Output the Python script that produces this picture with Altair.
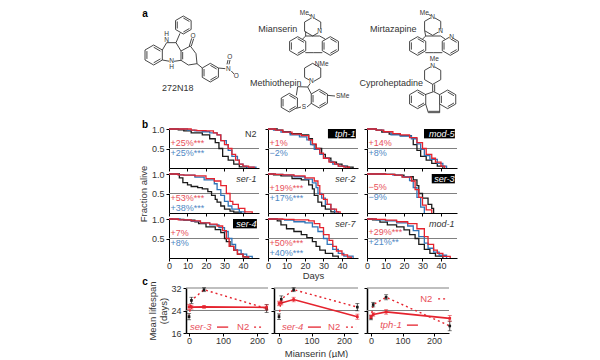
import math
import altair as alt
import pandas as pd

FONT = "Liberation Sans"
RED = "#e5232e"
BLUE = "#2f74b8"
BLACK = "#1a1a1a"
TXTRED = "#e8505a"
TXTBLUE = "#4f88c4"
GREY = "#808080"
INK = "#333333"

# ---------- survival curves: panel -> (days, fraction) for black, blue, red
N2 = {
 "k": ([0,5,8,12,18,22,25,27,29,32,35,38,42],[1,.98,.95,.9,.85,.75,.65,.5,.3,.2,.1,.03,0]),
 "b": ([0,10,14,18,22,26,28,31,32,34,37,38,40,42,47],[1,.97,.95,.93,.9,.85,.7,.6,.45,.3,.2,.1,.05,.02,0]),
 "r": ([0,12,15,20,24,26,28,30,32,34,36,38,40,43,46],[1,.97,.96,.95,.9,.85,.7,.6,.5,.35,.2,.1,.05,.02,0]),
}
SER1 = {
 "k": ([0,5.6,7.5,10,12,15.5,18,21,23,25,26,28,30,33,35,39],[1,.9,.78,.72,.68,.65,.62,.55,.45,.35,.28,.18,.1,.05,.02,0]),
 "b": ([0,5,8,14,19,24.5,26,28,30,32,34,38,41],[1,.98,.97,.92,.85,.75,.6,.45,.3,.18,.1,.03,0]),
 "r": ([0,5,8,14,20,24.5,28,31,33,34.5,37.5,41,45],[1,.98,.97,.95,.88,.82,.7,.5,.3,.22,.12,.03,0]),
}
SER4 = {
 "k": ([0,2,8,14,16,20,25,28,30,31,33,35,37,40,43],[1,.99,.97,.93,.88,.8,.73,.65,.5,.42,.3,.2,.1,.03,0]),
 "b": ([0,6,12,17,22,27,30,32,34,36,39,42,45],[1,.98,.94,.9,.85,.78,.68,.5,.35,.2,.1,.04,0]),
 "r": ([0,5,12,17,22,26,29,31,32.5,35,37,40,43],[1,.98,.95,.9,.87,.82,.7,.5,.3,.2,.1,.03,0]),
}
TPH1 = {
 "k": ([0,5,8,12,18,22,24,26,29,31,34,37,40,43,46],[1,.97,.93,.88,.85,.75,.6,.5,.35,.25,.15,.1,.05,.02,0]),
 "b": ([0,3,7,12,17,21,23,25,28,30,33,35,38,42],[1,.97,.92,.85,.8,.72,.6,.48,.35,.25,.17,.1,.05,0]),
 "r": ([0,4,8,13,18,22,24,26,28,30,33,36,38,41,44],[1,.97,.92,.87,.83,.72,.62,.5,.38,.25,.15,.1,.05,.02,0]),
}
SER2 = {
 "k": ([0,3,7,13,18,22,24,25,27,29,31,34,36],[1,.98,.95,.88,.85,.72,.62,.45,.28,.18,.1,.03,0]),
 "b": ([0,4,8,14,20,24,26,27,29,31,34,36,38],[1,.99,.97,.93,.87,.77,.65,.5,.38,.22,.1,.03,0]),
 "r": ([0,4,8,14,20,25,27,28,30,32,34,37,39],[1,.99,.98,.95,.9,.82,.7,.48,.35,.22,.1,.03,0]),
}
SER7 = {
 "k": ([0,5,7,10,14,18,21,24,26,28,31,35,38],[1,.95,.85,.75,.68,.6,.52,.42,.3,.2,.12,.05,0]),
 "b": ([0,5,9,14,20,24,27,30,32,35,38,41,46],[1,.99,.97,.93,.9,.8,.68,.5,.35,.22,.12,.05,0]),
 "r": ([0,8,14,22,25,28,30,33,35,37,40,43,45],[1,.99,.98,.95,.88,.78,.6,.45,.3,.18,.08,.02,0]),
}
MOD5 = {
 "k": ([0,5,8,12,18,24,25,27,29,32,35,38,41],[1,.97,.92,.87,.83,.78,.6,.45,.3,.2,.12,.05,0]),
 "b": ([0,5,9,13,18,24,27,29,31,34,38,41,43],[1,.97,.93,.85,.82,.75,.62,.48,.32,.22,.12,.05,0]),
 "r": ([0,5,9,14,18,23,27,30,32,35,37,40,42],[1,.97,.93,.88,.85,.78,.65,.5,.35,.25,.15,.05,0]),
}
SER3 = {
 "k": ([0,10,15,20,25,27,28,30,33,35,36],[1,.99,.97,.93,.85,.7,.5,.38,.22,.12,0]),
 "b": ([0,10,14,19,23,25,27,29,31],[1,.99,.97,.93,.83,.65,.4,.15,0]),
 "r": ([0,10,15,19,24,26,28,30,32,35],[1,.99,.97,.92,.82,.6,.4,.2,.08,0]),
}
MOD1 = {
 "k": ([0,3,7,11,16,20,23,26,28,31,34,37,41],[1,.98,.92,.85,.8,.72,.6,.5,.35,.22,.12,.05,0]),
 "b": ([0,5,10,16,22,25,28,31,33,36,39,43],[1,.98,.95,.9,.82,.7,.55,.38,.25,.15,.07,0]),
 "r": ([0,5,10,16,22,27,31,33,36,38,41,45],[1,.99,.97,.93,.88,.75,.55,.35,.2,.12,.04,0]),
}

PANELS = [
 ("N2",N2,False,"+25%***","+25%***",.64,.385),
 ("tph-1",TPH1,True,"+1%","\u22122%",.64,.385),
 ("mod-5",MOD5,True,"+14%","+8%",.64,.385),
 ("ser-1",SER1,False,"+53%***","+38%***",.385,.13),
 ("ser-2",SER2,False,"+19%***","+17%***",.64,.385),
 ("ser-3",SER3,True,"\u22125%","\u22129%",.66,.4),
 ("ser-4",SER4,True,"+7%","+8%",.64,.385),
 ("ser-7",SER7,False,"+50%***","+40%***",.385,.13),
 ("mod-1",MOD1,False,"+29%***","+21%**",.66,.41),
]

TICK_DAYS = [0,10,20,30,40]
LEVELS = [.5,1]

def survival(idx):
    name, curves, dark, rtxt, btxt, ry, by = PANELS[idx]
    col = idx % 3
    row = idx // 3
    xs = alt.Scale(domain=[0,48.65], nice=False)
    ys = alt.Scale(domain=[0,1], nice=False)
    xaxis = alt.Axis(values=TICK_DAYS, labels=row==2, title="Days" if idx==7 else None, titlePadding=0,
                     format="d", grid=False, labelOverlap=False, labelPadding=0)
    yaxis = alt.Axis(values=LEVELS, labels=col==0, format=".1f", grid=False, labelOverlap=False,
                     title="Fraction alive" if idx==3 else None, titlePadding=3)
    X = alt.X("d:Q", scale=xs, axis=xaxis)
    Y = alt.Y("f:Q", scale=ys, axis=yaxis)
    layers = [alt.Chart(pd.DataFrame({"d":[0],"e":[48.65],"f":[.5]})).mark_rule(color=GREY, strokeWidth=1).encode(
        x=X, x2="e:Q", y=Y)]
    for key,color in (("k",BLACK),("b",BLUE),("r",RED)):
        d,f = curves[key]
        layers.append(alt.Chart(pd.DataFrame({"d":d,"f":f})).mark_line(
            interpolate="step-after", color=color, strokeWidth=1.3).encode(x=X, y=Y))
    if dark:
        left = {"tph-1":32.4,"mod-5":30.8,"ser-3":35,"ser-4":34.6}[name]
        layers.append(alt.Chart(pd.DataFrame({"d":[left],"b":[47.5],"f":[.76],"e":[1.0]})).mark_rect(color="#000000").encode(
            x=X, x2="b:Q", y=Y, y2="e:Q"))
    layers.append(alt.Chart(pd.DataFrame({"d":[47.3],"f":[.88],"t":[name]})).mark_text(
        align="right", baseline="middle", font=FONT, fontSize=9,
        fontStyle="normal" if name=="N2" else "italic", color="#ffffff" if dark else INK).encode(
        x=X, y=Y, text="t:N"))
    for t,yy,c in ((rtxt,ry,TXTRED),(btxt,by,TXTBLUE)):
        layers.append(alt.Chart(pd.DataFrame({"d":[.8],"f":[yy],"t":[t]})).mark_text(
            align="left", baseline="middle", font=FONT, fontSize=9, color=c).encode(
            x=X, y=Y, text="t:N"))
    return alt.layer(*layers).properties(width=90, height=39)

# ---------- dose response
DOSE_TICKS = [0,100,200]
LIFE_TICKS = [16,24,32]
C = [
 dict(off=17,w=82,dom=[-9,232],x=[0,7,44,228],
      n2=[21.8,27.6,31.4,24.7],n2e=[1.1,1.1,.7,1.4],
      mu=[25.3,25.2,25.3,25.1],mue=[.9,.7,.5,.9],
      name="ser-3",nx=3,ny=18.1,sx=[82,115],sy=18.1,lx=141,ly=18.1,dx=[191,220],dy=18.1),
 dict(off=6,w=84,dom=[-15.4,243],x=[0,7,45,241],
      n2=[21.8,28,31.4,25.2],n2e=[1.0,1.2,.7,1.3],
      mu=[26.5,26.7,27.9,21.8],mue=[.8,.7,.8,.9],
      name="ser-4",nx=9,ny=18.1,sx=[89,129],sy=18.1,lx=151,ly=18.1,dx=[206,237],dy=18.1),
 dict(off=0,w=82,dom=[-12.7,247.6],x=[0,7,48,250],
      n2=[21.4,26.1,28.7,18.5],n2e=[.7,.8,.9,1.7],
      mu=[21.8,22.6,23.5,21.2],mue=[.6,.6,.8,1.0],
      name="tph-1",nx=29,ny=18.8,sx=[114,149],sy=18.8,lx=156,ly=28.1,dx=[213,244],dy=28.1),
]

def dose(i):
    p = C[i]
    xs = alt.Scale(domain=p["dom"], range=[p["off"],p["off"]+p["w"]], nice=False)
    ys = alt.Scale(domain=[16,32], range=[69,24], nice=False)
    xaxis = alt.Axis(values=DOSE_TICKS, title="Mianserin (\u00b5M)" if i==1 else None, titlePadding=3, format="d",
                     grid=False, labelOverlap=False, labelPadding=0)
    yaxis = alt.Axis(values=LIFE_TICKS, labels=i==0, offset=-p["off"], grid=False, domainWidth=1.5, labelOverlap=False,
                     title=["Mean lifespan","(days)"] if i==0 else None, titlePadding=2)
    X = alt.X("x:Q",scale=xs,axis=xaxis)
    def Yf(f): return alt.Y(f"{f}:Q",scale=ys,axis=yaxis)
    layers = []
    layers.append(alt.Chart(pd.DataFrame({"y":[24,32],"x":[p["dom"][0]]*2,"b":[p["dom"][1]]*2})).mark_rule(color=GREY,strokeWidth=1.2).encode(
        x=X, x2="b:Q", y=Yf("y")))
    df = pd.DataFrame({"x":p["x"],"n":p["n2"],"m":p["mu"],
        "nl":[a-b for a,b in zip(p["n2"],p["n2e"])],"nh":[a+b for a,b in zip(p["n2"],p["n2e"])],
        "ml":[a-b for a,b in zip(p["mu"],p["mue"])],"mh":[a+b for a,b in zip(p["mu"],p["mue"])]})
    layers.append(alt.Chart(df).mark_line(color=RED,strokeWidth=1.4,strokeDash=[2,3]).encode(x=X,y=Yf("n")))
    layers.append(alt.Chart(df).mark_line(color=RED,strokeWidth=1.6).encode(x=X,y=Yf("m")))
    for lo,hi,mid,color in (("nl","nh","n",BLACK),("ml","mh","m",RED)):
        layers.append(alt.Chart(df).mark_rule(color=color,strokeWidth=.8).encode(x=X,y=Yf(lo),y2=f"{hi}:Q"))
        for f in (lo,hi):
            layers.append(alt.Chart(df).mark_tick(color=color,thickness=.8,size=4,orient="horizontal").encode(x=X,y=Yf(f)))
        layers.append(alt.Chart(df).mark_point(color=color,filled=True,shape="square",size=7,opacity=1).encode(x=X,y=Yf(mid)))
    for who,st in ((p["name"],"italic"),("N2","normal")):
        tx,ty = (p["nx"],p["ny"]) if st=="italic" else (p["lx"],p["ly"])
        layers.append(alt.Chart(pd.DataFrame({"x":[tx],"y":[ty],"t":[who]})).mark_text(
            align="left",baseline="middle",font=FONT,fontSize=9.5,color=TXTRED,fontStyle=st).encode(
            x=X,y=Yf("y"),text="t:N"))
    layers.append(alt.Chart(pd.DataFrame({"x":[p["sx"][0]],"b":[p["sx"][1]],"y":[p["sy"]]})).mark_rule(color=RED,strokeWidth=1.3).encode(
        x=X,x2="b:Q",y=Yf("y")))
    layers.append(alt.Chart(pd.DataFrame({"x":[p["dx"][0]],"b":[p["dx"][1]],"y":[p["dy"]]})).mark_rule(color=RED,strokeWidth=1.3,strokeDash=[2,3]).encode(
        x=X,x2="b:Q",y=Yf("y")))
    return alt.layer(*layers).properties(width=90,height=69)

# ---------- molecule sketches: ring centres and bonds in sketch units
RINGS = [(68,162,30),(157,72,27),(238,215,28),
         (500,135,28),(598,135,28),(860,135,28),(958,135,28),
         (475,305,28),(565,293,28),(860,295,28),(950,295,28)]
SATURATED = [(545,77,28),(905,75,28),(545,215,28),(905,222,28)]
BONDS = [
 (94,147,107,125),(107,125,135,125),(135,125,150,150),(150,150,150,178),(155,153,155,175),(150,178,122,182),(122,182,94,177),
 (135,125,147,97),
 (150,150,178,135),(178,135,195,158),(195,158,198,188),(198,188,172,192),(172,192,150,178),
 (175,135,182,112),(181,135,188,113),(198,188,214,201),(262,201,283,203),
 (288,190,291,177),(294,190,297,177),(301,210,310,220),
 (545,49,532,40),
 (524,91,524,105),(524,105,515,114),(524,105,566,105),(566,105,582,114),(523,155,548,155),(548,155,574,155),
 (905,47,892,40),
 (881,89,884,105),(884,105,875,114),(884,105,929,105),(929,105,942,114),(883,155,908,155),(908,155,934,155),
 (541,243,530,258),(530,258,500,257),(500,257,496,283),(530,258,541,279),(496,322,510,318),(528,318,541,307),
 (589,283,612,285),
 (905,250,905,272),(911,250,911,272),(908,272,882,281),(908,272,926,281),(884,309,892,335),(892,335,926,335),(892,331,926,331),(926,335,926,309),
]
ATOMS = [("N",107,116),("H",107,98),("N",122,181),("H",122,199),("O",186,105),("N",292,203),("O",296,168),("O",316,224),
 ("Me",520,35),("N",545,49),("N",566,91),("Me",880,35),("N",905,47),("N",929,91),("N",962,107),
 ("NMe",572,190),("N",541,241),("S",519,318),("SMe",635,285),
 ("Me",910,175),("N",905,194)]
NAMES = [("272N18",140,260),("Mianserin",440,83),("Mirtazapine",787,83),("Methiothepin",434,245),("Cyproheptadine",781,245)]
HEADS = [("a",144,13),("b",144,124),("c",144,281)]

def px(v): return 130 + v/3
def py(v): return v/3

segs = []
def ring(cx,cy,r,inner):
    pts = [(cx+r*math.sin(k*math.pi/3), cy-r*math.cos(k*math.pi/3)) for k in range(6)]
    for k in range(6):
        a,b = pts[k],pts[(k+1)%6]
        segs.append((a[0],a[1],b[0],b[1]))
        if inner and k%2==0:
            f=.78
            segs.append((cx+(a[0]-cx)*f,cy+(a[1]-cy)*f,cx+(b[0]-cx)*f,cy+(b[1]-cy)*f))
for c in RINGS: ring(*c,True)
for c in SATURATED: ring(*c,False)
segs += BONDS
bonds = pd.DataFrame([{"x":px(a),"y":py(b),"x2":px(c),"y2":py(d)} for a,b,c,d in segs])
atoms = pd.DataFrame([{"t":t,"x":px(a),"y":py(b)} for t,a,b in ATOMS])
names = pd.DataFrame([{"t":t,"x":px(a),"y":py(b)} for t,a,b in NAMES])
heads = pd.DataFrame([{"t":t,"x":x,"y":y} for t,x,y in HEADS])

sx = alt.Scale(domain=[168,258],nice=False)
sy = alt.Scale(domain=[122,8],nice=False)
NX = alt.X("x:Q",scale=sx,axis=None)
NY = alt.Y("y:Q",scale=sy,axis=None)
top = alt.layer(
    alt.Chart(pd.DataFrame({"x":[8],"y":[8]})).mark_point(size=1,opacity=0).encode(x=NX,y=NY),
    alt.Chart(bonds).mark_rule(color=INK,strokeWidth=.9).encode(x=NX,x2="x2:Q",y=NY,y2="y2:Q"),
    alt.Chart(atoms).mark_circle(color="#ffffff",size=22,opacity=1).encode(x=NX,y=NY),
    alt.Chart(atoms).mark_text(font=FONT,fontSize=6.5,color=INK,baseline="middle",align="center").encode(x=NX,y=NY,text="t:N"),
    alt.Chart(names).mark_text(font=FONT,fontSize=9,color=INK,baseline="middle",align="center").encode(x=NX,y=NY,text="t:N"),
    alt.Chart(heads).mark_text(font=FONT,fontSize=10,fontWeight="bold",color="#000000",baseline="middle",align="center").encode(x=NX,y=NY,text="t:N"),
).properties(width=90,height=114)

def blank(h):
    return alt.Chart(pd.DataFrame({"x":[0]})).mark_point(opacity=0).encode(
        x=alt.X("x:Q",axis=None)).properties(width=90,height=h)

cells = [top, blank(114), blank(114)] + [survival(i) for i in range(9)] + [dose(i) for i in range(3)]
chart = alt.concat(*cells, columns=3, spacing={"row":6,"column":9}).properties(
    bounds="flush", padding=0, align="each"
).resolve_scale(x="independent", y="independent").configure_view(stroke=None).configure_axis(
    labelFont=FONT, titleFont=FONT, labelFontSize=9, titleFontSize=9.5, titleFontWeight="normal",
    labelColor=INK, titleColor=INK, domainColor="#000000", tickColor="#000000", tickSize=3,
    labelPadding=2, labelFlush=False, domainWidth=1, tickWidth=1, labelOverlap=False)
chart.save("out.html", embed_options={"renderer": "svg", "actions": False})
